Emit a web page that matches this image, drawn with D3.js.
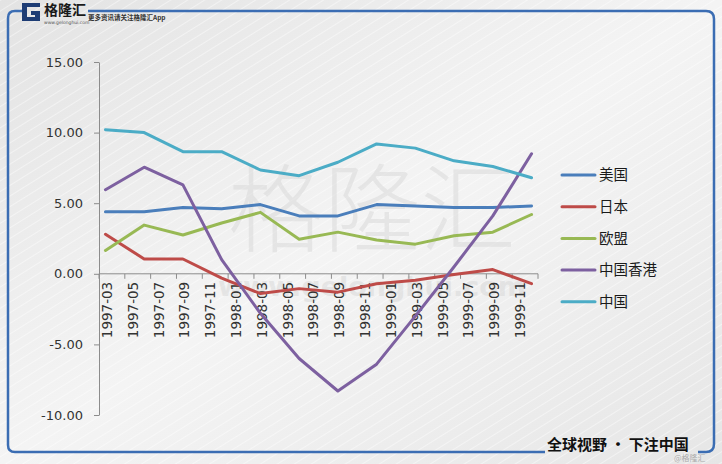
<!DOCTYPE html>
<html>
<head>
<meta charset="utf-8">
<script src="https://cdn.jsdelivr.net/npm/d3@7"></script>
<style>
  html, body { margin: 0; padding: 0; background: #eeeeee; }
  svg { display: block; }
</style>
</head>
<body>
<svg id="chart" width="722" height="464"></svg>
<script>
// ---------------- DATA ----------------
const quarters = ["1997-03","1997-06","1997-09","1997-12","1998-03","1998-06","1998-09","1998-12","1999-03","1999-06","1999-09","1999-12"];
const tickLabels = ["1997-03","1997-05","1997-07","1997-09","1997-11","1998-01","1998-03","1998-05","1998-07","1998-09","1998-11","1999-01","1999-03","1999-05","1999-07","1999-09","1999-11"];
const yTicks = [-10, -5, 0, 5, 10, 15];
const seriesNames = ["美国", "日本", "欧盟", "中国香港", "中国"];
const usa   = [4.4, 4.4, 4.7, 4.6, 4.9, 4.1, 4.1, 4.9, 4.8, 4.7, 4.7, 4.8];
const japan = [2.8, 1.05, 1.05, -0.3, -1.4, -1.05, -1.3, -0.7, -0.45, -0.05, 0.3, -0.7];
const eu    = [1.65, 3.45, 2.75, 3.6, 4.35, 2.45, 2.95, 2.4, 2.1, 2.7, 2.95, 4.2];
const hk    = [5.95, 7.55, 6.3, 1.0, -2.8, -6.0, -8.3, -6.4, -3.0, 0.5, 4.1, 8.5];
const china = [10.2, 10.0, 8.65, 8.65, 7.35, 6.95, 7.9, 9.2, 8.9, 8.0, 7.6, 6.8];
const seriesValues = [usa, japan, eu, hk, china];
const colors = ["#4a7ebb", "#be4b48", "#98b954", "#7d60a0", "#4bacc6"];

// ---------------- SETUP ----------------
const svg = d3.select("#chart");
const W = 722, H = 464;
const defs = svg.append("defs");

const bg = defs.append("linearGradient").attr("id", "bg").attr("x1", 0).attr("y1", 0).attr("x2", 1).attr("y2", 1);
bg.append("stop").attr("offset", "0%").attr("stop-color", "#e3e3e3");
bg.append("stop").attr("offset", "50%").attr("stop-color", "#f4f4f4");
bg.append("stop").attr("offset", "100%").attr("stop-color", "#e6e6e6");

const pat = defs.append("pattern").attr("id", "stripes").attr("patternUnits", "userSpaceOnUse")
  .attr("width", 9).attr("height", 9).attr("patternTransform", "rotate(-32)");
pat.append("line").attr("x1", 0).attr("y1", 0).attr("x2", 9).attr("y2", 0)
  .attr("stroke", "#ffffff").attr("stroke-width", 1.6).attr("stroke-opacity", 0.55);

svg.append("rect").attr("width", W).attr("height", H).attr("fill", "url(#bg)");
svg.append("rect").attr("width", W).attr("height", H).attr("fill", "url(#stripes)");

// watermark
svg.append("text").attr("x", 372).attr("y", 244).attr("text-anchor", "middle")
  .attr("font-family", "Noto Sans CJK SC").attr("font-size", 96).attr("font-weight", 300)
  .attr("fill", "#d9d9d9").attr("fill-opacity", 0.55).text("格隆汇");
svg.append("text").attr("x", 372).attr("y", 296).attr("text-anchor", "middle")
  .attr("font-family", "DejaVu Sans").attr("font-size", 27).attr("font-weight", "bold")
  .attr("fill", "#d6d6d6").attr("fill-opacity", 0.5).text("www.gelonghui.com");

// frame
const frameColor = "#3b6db3";
svg.append("path").attr("d", "M22,11 L15,11 Q8,11 8,18 L8,445 Q8,452 15,452 L545,452")
  .attr("fill", "none").attr("stroke", frameColor).attr("stroke-width", 2.5);
svg.append("path").attr("d", "M88,11 L706,11 Q714,11 714,19 L714,444 Q714,452 706,452 L698,452")
  .attr("fill", "none").attr("stroke", frameColor).attr("stroke-width", 2.5);

// logo
svg.append("path").attr("d", "M40,3 L22,3 L22,21 L40,21 L40,11 L31,11 L31,15 L35,15 L35,17 L27,17 L27,7 L40,7 Z")
  .attr("fill", "#1d3c74");
svg.append("text").attr("x", 44).attr("y", 15).attr("font-family", "Noto Sans CJK SC")
  .attr("font-size", 14).attr("font-weight", "bold").attr("fill", "#1a1a1a").text("格隆汇");
svg.append("text").attr("x", 44).attr("y", 23.5).attr("font-family", "DejaVu Sans")
  .attr("font-size", 4.5).attr("fill", "#555").text("www.gelonghui.com");
svg.append("text").attr("x", 88).attr("y", 20).attr("font-family", "Noto Sans CJK SC")
  .attr("font-size", 6.5).attr("font-weight", "bold").attr("fill", "#333").text("更多资讯请关注格隆汇App");

// ---------------- SCALES ----------------
const monthIndex = s => { const [yy, mm] = s.split("-").map(Number); return (yy - 1997) * 12 + (mm - 3); };
const x = d3.scaleLinear().domain([0, 34]).range([99, 538]);
const y = d3.scaleLinear().domain([-10, 15]).range([415, 62]);

// ---------------- AXES ----------------
const yAxis = svg.append("g").attr("transform", "translate(99,0)")
  .call(d3.axisLeft(y).tickValues(yTicks).tickFormat(d => d.toFixed(2)).tickSize(5).tickPadding(11).tickSizeOuter(0));
yAxis.select(".domain").attr("stroke", "#8c8c8c");
yAxis.selectAll(".tick line").attr("stroke", "#8c8c8c");
yAxis.selectAll(".tick text").attr("font-family", "DejaVu Sans").attr("font-size", 13).attr("fill", "#333");

const y0 = y(0);
const xAxis = svg.append("g");
xAxis.append("line").attr("x1", x(0)).attr("x2", x(34)).attr("y1", y0).attr("y2", y0)
  .attr("stroke", "#8c8c8c");
xAxis.selectAll("line.tk").data(d3.range(0, 35, 2)).join("line").attr("class", "tk")
  .attr("x1", d => x(d)).attr("x2", d => x(d)).attr("y1", y0).attr("y2", y0 + 5)
  .attr("stroke", "#8c8c8c");
xAxis.selectAll("text").data(tickLabels).join("text")
  .attr("transform", d => `translate(${x(monthIndex(d) + 0.62)},${y0 + 8}) rotate(-90)`)
  .attr("text-anchor", "end").attr("dy", "0.36em")
  .attr("font-family", "DejaVu Sans").attr("font-size", 13.5).attr("fill", "#333")
  .text(d => d);

// ---------------- LINES ----------------
const line = d3.line().x((d, i) => x(monthIndex(quarters[i]) + 0.5)).y(d => y(d));
svg.append("g").selectAll("path").data(seriesValues).join("path")
  .attr("d", d => line(d)).attr("fill", "none")
  .attr("stroke", (d, i) => colors[i]).attr("stroke-width", 3)
  .attr("stroke-linejoin", "round").attr("stroke-linecap", "round");

// ---------------- LEGEND ----------------
const legend = svg.append("g");
const lg = legend.selectAll("g").data(seriesNames).join("g")
  .attr("transform", (d, i) => `translate(562,${175 + i * 31.7})`);
lg.append("line").attr("x1", 0).attr("x2", 33).attr("stroke", (d, i) => colors[i])
  .attr("stroke-width", 3).attr("stroke-linecap", "round");
lg.append("text").attr("x", 37).attr("dy", "0.36em").attr("font-family", "Noto Sans CJK SC")
  .attr("font-size", 14.5).attr("fill", "#1a1a1a").text(d => d);

// ---------------- FOOTER ----------------
svg.append("text").attr("x", 547).attr("y", 450).attr("font-family", "Noto Sans CJK SC")
  .attr("font-size", 15).attr("font-weight", "bold").attr("fill", "#111").text("全球视野 · 下注中国");
svg.append("text").attr("x", 674).attr("y", 461).attr("font-family", "Noto Sans CJK SC")
  .attr("font-size", 8).attr("fill", "#9a9a9a").attr("fill-opacity", 0.8).text("@格隆汇");
</script>
</body>
</html>
